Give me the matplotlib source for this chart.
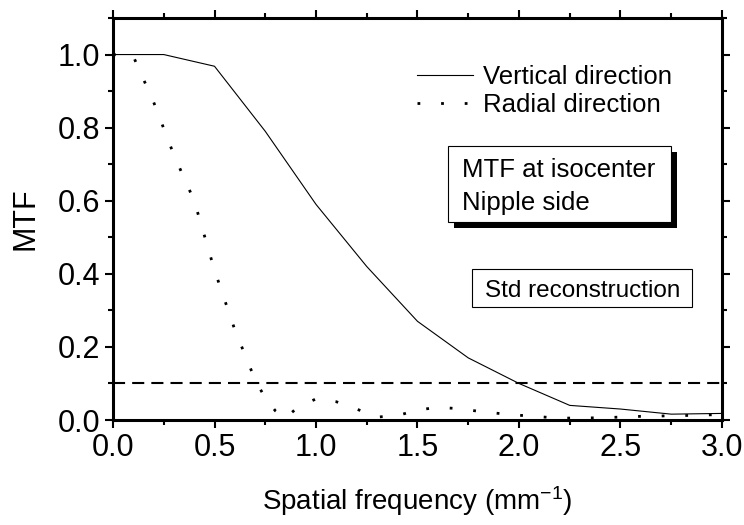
"""MTF at isocenter, nipple side: vertical vs radial direction."""

import matplotlib
matplotlib.use("Agg")
import matplotlib.pyplot as plt
from matplotlib.patches import Rectangle
from matplotlib.ticker import MultipleLocator

plt.rcParams["font.family"] = ["Liberation Sans", "DejaVu Sans"]
plt.rcParams["mathtext.default"] = "regular"

# vertical direction (solid)
vert_x = [0.0, 0.25, 0.5, 0.75, 1.0, 1.25, 1.5, 1.75, 2.0, 2.25, 2.5, 2.75, 3.0]
vert_y = [1.0, 1.0, 0.968, 0.79, 0.59, 0.42, 0.27, 0.17, 0.10, 0.04, 0.03, 0.016, 0.018]

# radial direction (dotted)
rad_x = [0.0, 0.1, 0.2, 0.3, 0.4, 0.5, 0.6, 0.7, 0.75, 0.8, 0.85, 0.9, 1.0, 1.1,
         1.2, 1.3, 1.4, 1.5, 1.6, 1.7, 1.8, 1.9, 2.0, 2.2, 2.4, 2.6, 2.8, 3.0]
rad_y = [1.0, 0.995, 0.87, 0.725, 0.60, 0.41, 0.247, 0.11, 0.06, 0.025, 0.005, 0.03,
         0.058, 0.05, 0.03, 0.008, 0.012, 0.027, 0.035, 0.031, 0.024, 0.018, 0.013,
         0.005, 0.006, 0.01, 0.012, 0.015]

threshold = 0.1

fig = plt.figure(figsize=(7.44, 5.25), dpi=100)
ax = fig.add_axes([0.1519, 0.2, 0.8185, 0.7657])

ax.plot(vert_x, vert_y, color="black", lw=0.8, label="Vertical direction")
ax.plot(rad_x, rad_y, color="black", lw=2.0, ls=(0, (1, 7.5)), label="Radial direction")
ax.axhline(threshold, color="black", lw=1.5, ls=(0, (5.8, 3.4)))

ax.set_xlim(0, 3.0)
ax.set_ylim(0, 1.1)
ax.xaxis.set_major_locator(MultipleLocator(0.5))
ax.xaxis.set_minor_locator(MultipleLocator(0.25))
ax.yaxis.set_major_locator(MultipleLocator(0.2))
ax.yaxis.set_minor_locator(MultipleLocator(0.1))
ax.xaxis.set_major_formatter(lambda v, p: f"{v:.1f}")
ax.yaxis.set_major_formatter(lambda v, p: f"{v:.1f}")
ax.tick_params(which="both", direction="out", top=True, right=True,
               width=1.5, labelsize=22, pad=3)
ax.tick_params(which="major", length=6)
ax.tick_params(which="minor", length=3.5)
for s in ax.spines.values():
    s.set_linewidth(2.2)

ax.set_xlabel("Spatial frequency (mm$^{-1}$)", fontsize=20)
ax.xaxis.label.set_va("baseline")
ax.xaxis.set_label_coords(0.5, -0.224)
ax.set_ylabel("MTF", fontsize=22)
ax.yaxis.label.set_va("center")
ax.yaxis.set_label_coords(-0.1445, 0.5)

ax.legend(loc="upper left", bbox_to_anchor=(0.499, 0.884), frameon=False,
          fontsize=18.5, handlelength=2.18, handletextpad=0.39, labelspacing=0.18,
          borderpad=0, borderaxespad=0)

# boxed annotations (shadowed box + plain box)
ax.add_patch(Rectangle((0.5598, 0.4776), 0.366, 0.189, transform=ax.transAxes,
                       fc="black", ec="none", zorder=4))
ax.add_patch(Rectangle((0.550, 0.4925), 0.366, 0.189, transform=ax.transAxes,
                       fc="white", ec="black", lw=0.8, zorder=5))
ax.text(0.573, 0.6045, "MTF at isocenter", transform=ax.transAxes,
        fontsize=18.5, va="baseline", ha="left", zorder=6)
ax.text(0.573, 0.5224, "Nipple side", transform=ax.transAxes,
        fontsize=18.5, va="baseline", ha="left", zorder=6)

ax.add_patch(Rectangle((0.5895, 0.2811), 0.3612, 0.0945, transform=ax.transAxes,
                       fc="white", ec="black", lw=0.8, zorder=5))
ax.text(0.6108, 0.306, "Std reconstruction", transform=ax.transAxes,
        fontsize=17.5, va="baseline", ha="left", zorder=6)

fig.savefig("out.png", dpi=100)
